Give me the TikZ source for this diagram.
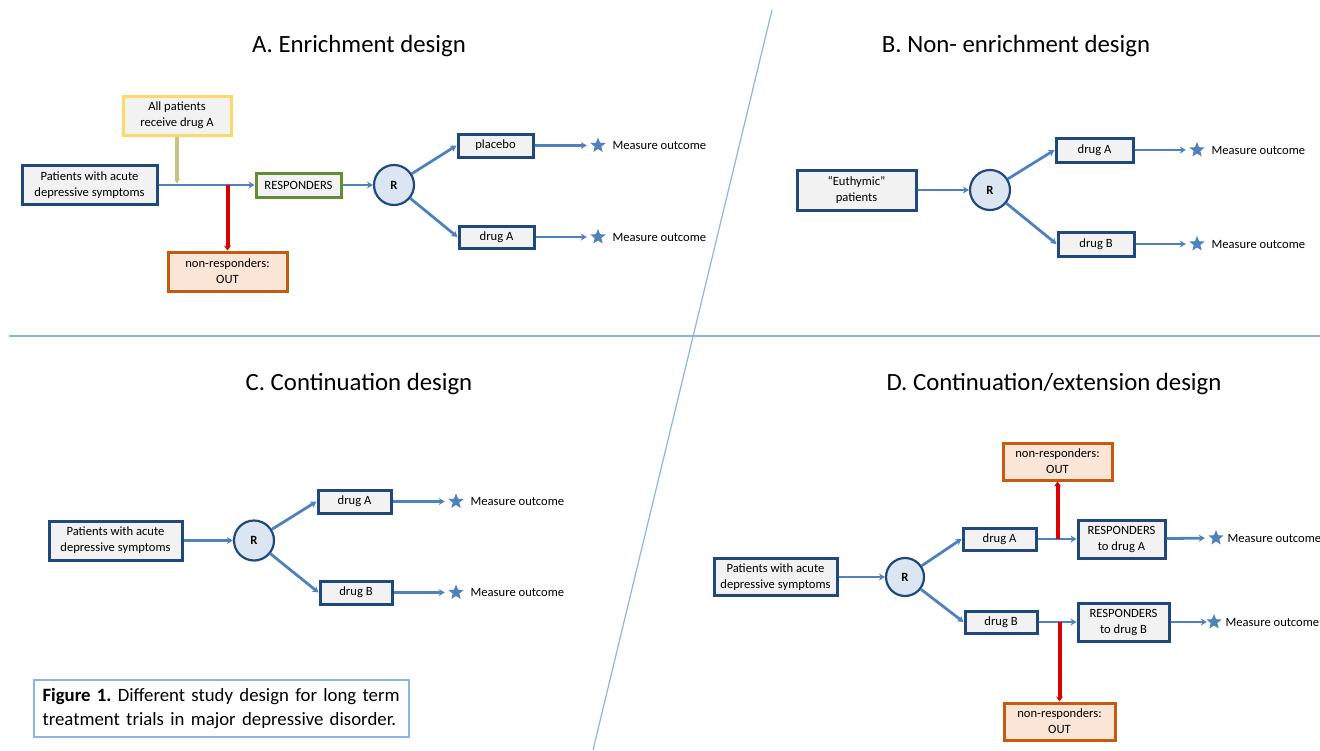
\documentclass[tikz,border=0pt]{standalone}
\usepackage{fontspec}
\setmainfont{Carlito}
\usetikzlibrary{arrows.meta, shapes.geometric, positioning}

\definecolor{boxblue}{RGB}{31,73,125}
\definecolor{boxgray}{RGB}{242,242,242}
\definecolor{linkblue}{RGB}{79,129,189}
\definecolor{circfill}{RGB}{220,230,242}
\definecolor{yelbox}{RGB}{255,217,102}
\definecolor{grnbox}{RGB}{100,140,55}
\definecolor{orgbox}{RGB}{197,90,17}
\definecolor{orgfill}{RGB}{251,229,214}
\definecolor{redline}{RGB}{220,0,0}
\definecolor{feedline}{RGB}{200,195,130}
\definecolor{divline}{RGB}{141,180,226}

\newcommand{\boxfont}{\fontsize{6.3}{8}\selectfont}
\newcommand{\headfont}{\fontsize{12.4}{14}\selectfont}
\frenchspacing

\tikzset{
  box/.style={draw=boxblue, fill=boxgray, line width=1.5pt, align=center, inner sep=1pt, font=\boxfont},
  outbox/.style={box, draw=orgbox, fill=orgfill},
  rnode/.style={circle, draw=boxblue, fill=circfill, line width=1.1pt, minimum size=20pt, inner sep=0pt, font=\boxfont\bfseries},
  conn/.style={draw=linkblue, line width=1.4pt, -{Stealth[length=3pt,width=3.5pt]}},
  feed/.style={draw=feedline, line width=1.6pt, -{Stealth[length=2.5pt,width=3pt]}},
  drop/.style={draw=redline, line width=2pt, -{Stealth[length=2.5pt,width=3.5pt]}},
  mstar/.style={star, star points=5, star point ratio=2.3, fill=linkblue, minimum size=8pt, inner sep=0pt},
  meas/.style={font=\boxfont, inner sep=0pt},
  divider/.style={draw=divline, line width=0.6pt},
  heading/.style={font=\headfont}
}

\begin{document}
\begin{tikzpicture}[x=0.5pt, y=-0.5pt]
    \useasboundingbox (0,0) rectangle (1320,750);

    % Quadrant dividers
    \draw[divider] (772,10) -- (593,750);
    \draw[divider] (9,336) -- (1320,336);

    % Headings
    \node[heading] (headA) at (359,46) {A. Enrichment design};
    \node[heading] (headB) at (1016,46) {B. Non- enrichment design};
    \node[heading] (headC) at (359,384) {C. Continuation design};
    \node[heading] (headD) at (1054,384) {D. Continuation/extension design};

    % --- A. Enrichment design ---
    \node[box, minimum width=67.5pt, minimum height=19.5pt] (patA) at (89.5,185) {Patients with acute\\depressive symptoms};
    \node[box, draw=yelbox, minimum width=54pt, minimum height=19.5pt] (allA) at (177,115.5) {All patients\\receive drug A};
    \node[box, draw=grnbox, minimum width=42.5pt, minimum height=12pt] (respA) at (298.5,185) {RESPONDERS};
    \node[outbox, minimum width=59.5pt, minimum height=19.5pt] (outA) at (227.5,271.5) {non-responders:\\OUT};
    \node[rnode] (rA) at (394,185) {R};
    \node[box, minimum width=37.5pt, minimum height=11.5pt] (plA) at (495.5,145.5) {placebo};
    \node[box, minimum width=37.5pt, minimum height=11pt] (drA) at (496.5,237) {drug A};
    \node[mstar] (starA1) at (598,145.5) {};
    \node[meas, right=4.5pt of starA1] (measA1) {Measure outcome};
    \node[mstar] (starA2) at (598,237) {};
    \node[meas, right=4.5pt of starA2] (measA2) {Measure outcome};

    \draw[conn] (patA) -- (respA);
    \draw[feed, shorten >=0.7pt] (allA) -- (allA |- respA.west);
    \draw[drop] (outA.north |- respA.west) -- (outA);
    \draw[conn] (respA) -- (rA);
    \draw[conn] (rA) -- (plA.west);
    \draw[conn] (rA) -- (drA.west);
    \draw[conn, shorten >=3pt] (plA) -- (starA1);
    \draw[conn, shorten >=3pt] (drA) -- (starA2);

    % --- B. Non-enrichment design ---
    \node[box, minimum width=59.5pt, minimum height=20pt] (patB) at (856.5,190) {“Euthymic”\\patients};
    \node[rnode] (rB) at (990,190) {R};
    \node[box, minimum width=38.5pt, minimum height=12pt] (daB) at (1094.5,150) {drug A};
    \node[box, minimum width=38pt, minimum height=12pt] (dbB) at (1096,244) {drug B};
    \node[mstar] (starB1) at (1197,150) {};
    \node[meas, right=4.5pt of starB1] (measB1) {Measure outcome};
    \node[mstar] (starB2) at (1197,244) {};
    \node[meas, right=4.5pt of starB2] (measB2) {Measure outcome};

    \draw[conn] (patB) -- (rB);
    \draw[conn] (rB) -- (daB.west);
    \draw[conn] (rB) -- (dbB.west);
    \draw[conn, shorten >=3pt] (daB) -- (starB1);
    \draw[conn, shorten >=3pt] (dbB) -- (starB2);

    % --- C. Continuation design ---
    \node[box, minimum width=66.5pt, minimum height=19.5pt] (patC) at (115.5,540.5) {Patients with acute\\depressive symptoms};
    \node[rnode] (rC) at (254,540.5) {R};
    \node[box, minimum width=36.5pt, minimum height=11.5pt] (daC) at (354.5,501.5) {drug A};
    \node[box, minimum width=36pt, minimum height=11.5pt] (dbC) at (356,592.5) {drug B};
    \node[mstar] (starC1) at (456,501.5) {};
    \node[meas, right=4.5pt of starC1] (measC1) {Measure outcome};
    \node[mstar] (starC2) at (456,592.5) {};
    \node[meas, right=4.5pt of starC2] (measC2) {Measure outcome};

    \draw[conn] (patC) -- (rC);
    \draw[conn] (rC) -- (daC.west);
    \draw[conn] (rC) -- (dbC.west);
    \draw[conn, shorten >=3pt] (daC) -- (starC1);
    \draw[conn, shorten >=3pt] (dbC) -- (starC2);

    % --- D. Continuation/extension design ---
    \node[box, minimum width=61.5pt, minimum height=18.5pt] (patD) at (775.5,577) {Patients with acute\\depressive symptoms};
    \node[rnode, minimum size=19pt] (rD) at (905,577) {R};
    \node[box, minimum width=36.5pt, minimum height=11pt] (daD) at (999.5,539) {drug A};
    \node[box, minimum width=36pt, minimum height=11pt] (dbD) at (1001,622) {drug B};
    \node[box, minimum width=43.5pt, minimum height=19pt] (rsA) at (1121.5,539) {RESPONDERS\\to drug A};
    \node[box, minimum width=45.5pt, minimum height=19pt] (rsB) at (1123.5,622) {RESPONDERS\\to drug B};
    \node[outbox, minimum width=54.5pt, minimum height=18.5pt] (outD1) at (1057.5,461.5) {non-responders:\\OUT};
    \node[outbox, minimum width=55.5pt, minimum height=18.5pt] (outD2) at (1059.5,721.5) {non-responders:\\OUT};
    \node[mstar] (starD1) at (1216,538) {};
    \node[meas, right=3pt of starD1] (measD1) {Measure outcome};
    \node[mstar] (starD2) at (1214,622) {};
    \node[meas, right=3pt of starD2] (measD2) {Measure outcome};

    \draw[conn] (patD) -- (rD);
    \draw[conn] (rD) -- (daD.west);
    \draw[conn] (rD) -- (dbD.west);
    \draw[conn] (daD) -- (rsA);
    \draw[conn] (dbD) -- (rsB);
    \draw[drop] (outD1.south |- daD.east) -- (outD1);
    \draw[drop] (outD2.north |- dbD.east) -- (outD2);
    \draw[conn, shorten >=3pt] (rsA) -- (starD1);
    \draw[conn, shorten >=1pt] (rsB) -- (starD2);

    % Caption
    \node[draw=divline, line width=0.6pt, text width=179pt, inner xsep=4.25pt, minimum height=28.5pt, align=left, font=\fontsize{9.4}{11.6}\selectfont] (caption) at (221.5,708.5) {\textbf{Figure 1.} Different study design for long term\\treatment trials in major depressive disorder.};
\end{tikzpicture}
\end{document}
